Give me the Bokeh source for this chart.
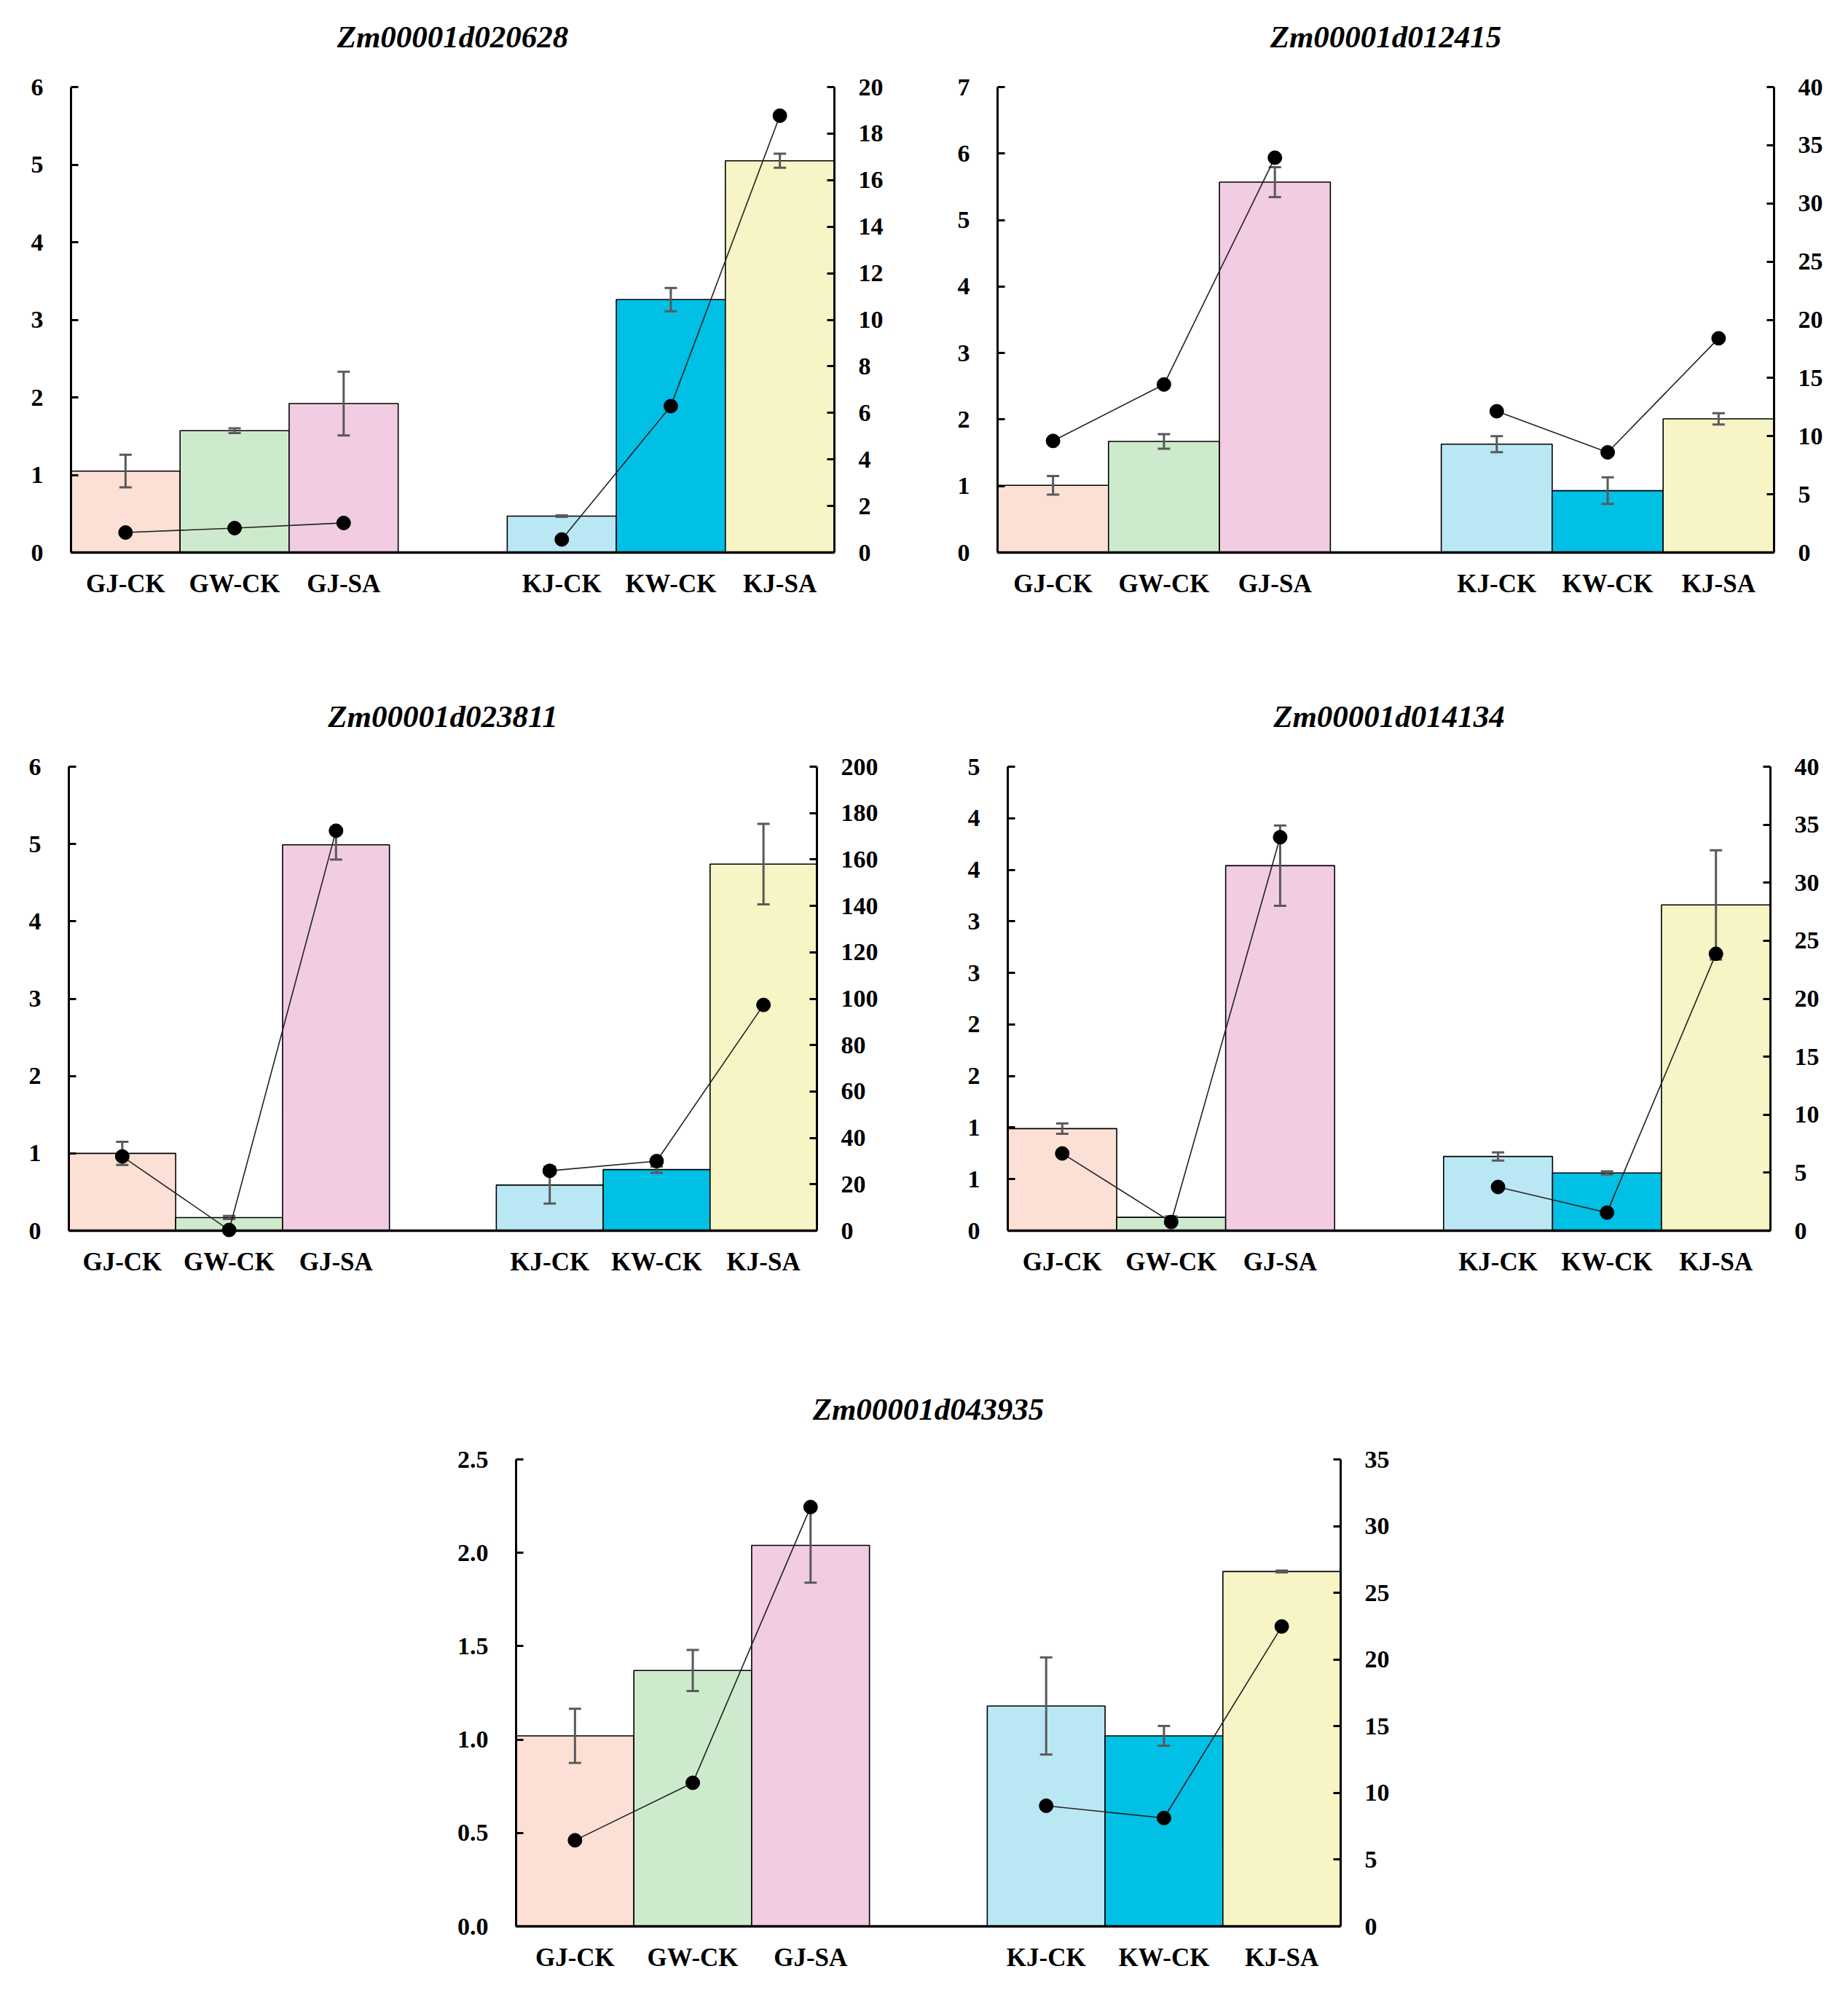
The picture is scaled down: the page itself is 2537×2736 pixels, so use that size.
from bokeh.plotting import figure
from bokeh.models import (Range1d, LinearAxis, FixedTicker, Whisker, ColumnDataSource,
                          TeeHead, FactorRange, Spacer, Title)
from bokeh.layouts import column, row
from bokeh.embed import file_html
from bokeh.resources import INLINE

# ---------------- data ----------------
categories = ["GJ-CK", "GW-CK", "GJ-SA", "KJ-CK", "KW-CK", "KJ-SA"]
bar_colors = ["#FCE0D5", "#CEEACD", "#F2CCE2", "#BAE7F4", "#00C0E6", "#F7F4C5"]

genes = ["Zm00001d020628", "Zm00001d012415", "Zm00001d023811",
         "Zm00001d014134", "Zm00001d043935"]

# relative expression (bars, left axis) with error, and line values (right axis)
bars_020628 = [1.05, 1.57, 1.92, 0.47, 3.26, 5.05]
err_020628 = [0.21, 0.03, 0.41, 0.01, 0.15, 0.09]
line_020628 = [0.86, 1.05, 1.27, 0.56, 6.29, 18.77]

bars_012415 = [1.01, 1.67, 5.57, 1.63, 0.93, 2.01]
err_012415 = [0.14, 0.11, 0.225, 0.12, 0.20, 0.085]
line_012415 = [9.59, 14.44, 33.93, 12.14, 8.61, 18.41]

bars_023811 = [1.00, 0.17, 4.99, 0.59, 0.79, 4.74]
err_023811 = [0.15, 0.02, 0.19, 0.24, 0.04, 0.52]
line_023811 = [32.0, 0.3, 172.4, 25.8, 30.0, 97.3]

bars_014134 = [0.99, 0.13, 3.54, 0.72, 0.56, 3.16]
err_014134 = [0.05, 0.01, 0.39, 0.04, 0.015, 0.53]
line_014134 = [6.66, 0.75, 33.92, 3.77, 1.56, 23.87]

bars_043935 = [1.02, 1.37, 2.04, 1.18, 1.02, 1.90]
err_043935 = [0.145, 0.11, 0.20, 0.26, 0.053, 0.005]
line_043935 = [6.45, 10.76, 31.43, 9.04, 8.12, 22.48]

# axis ticks / labels
left_ticks_020628 = [0, 1, 2, 3, 4, 5, 6]
left_labels_020628 = ["0", "1", "2", "3", "4", "5", "6"]
right_ticks_020628 = [0, 2, 4, 6, 8, 10, 12, 14, 16, 18, 20]

left_ticks_012415 = [0, 1, 2, 3, 4, 5, 6, 7]
left_labels_012415 = ["0", "1", "2", "3", "4", "5", "6", "7"]
right_ticks_012415 = [0, 5, 10, 15, 20, 25, 30, 35, 40]

left_ticks_023811 = [0, 1, 2, 3, 4, 5, 6]
left_labels_023811 = ["0", "1", "2", "3", "4", "5", "6"]
right_ticks_023811 = [0, 20, 40, 60, 80, 100, 120, 140, 160, 180, 200]

left_ticks_014134 = [0, 0.5, 1, 1.5, 2, 2.5, 3, 3.5, 4, 4.5]
left_labels_014134 = ["0", "1", "1", "2", "2", "3", "3", "4", "4", "5"]
right_ticks_014134 = [0, 5, 10, 15, 20, 25, 30, 35, 40]

left_ticks_043935 = [0, 0.5, 1, 1.5, 2, 2.5]
left_labels_043935 = ["0.0", "0.5", "1.0", "1.5", "2.0", "2.5"]
right_ticks_043935 = [0, 5, 10, 15, 20, 25, 30, 35]

FONT = "Liberation Serif"
GAP = " "
x_factors = categories[:3] + [GAP] + categories[3:]


def make_panel(title, bars, errs, line, lticks, llabels, rticks,
               fw, fh, lb, rb, tb, bb, gap):
    p = figure(x_range=FactorRange(*x_factors, range_padding=0),
               y_range=Range1d(lticks[0], lticks[-1]),
               frame_width=fw, frame_height=fh,
               min_border_left=lb, min_border_right=rb,
               min_border_top=tb, min_border_bottom=bb,
               output_backend="svg", toolbar_location=None, tools="")
    p.extra_y_ranges = {"r": Range1d(rticks[0], rticks[-1])}

    # small empty spacer between frame and the gene title
    p.add_layout(Title(text=" ", text_font_size="1px", standoff=gap), "above")
    p.add_layout(Title(text=title, align="center", vertical_align="top",
                       text_font=FONT, text_font_size="43px",
                       text_font_style="bold italic", text_color="black",
                       standoff=53), "above")

    p.outline_line_color = None
    p.xgrid.grid_line_color = None
    p.ygrid.grid_line_color = None
    p.background_fill_color = "white"
    p.border_fill_color = "white"

    src = ColumnDataSource(dict(
        x=categories, top=bars, color=bar_colors,
        upper=[b + e for b, e in zip(bars, errs)],
        lower=[b - e for b, e in zip(bars, errs)],
    ))
    p.vbar(x="x", top="top", bottom=0, width=1.0, source=src,
           fill_color="color", line_color="black", line_width=1.6)

    wk = Whisker(base="x", upper="upper", lower="lower", source=src,
                 line_color="#595959", line_width=3, level="annotation",
                 upper_head=TeeHead(size=17, line_color="#595959", line_width=3),
                 lower_head=TeeHead(size=17, line_color="#595959", line_width=3))
    p.add_layout(wk)

    for grp in (slice(0, 3), slice(3, 6)):
        lr = p.line(categories[grp], line[grp], y_range_name="r",
                    line_color="#222222", line_width=1.6)
        lr.level = "overlay"
        sr = p.scatter(categories[grp], line[grp], y_range_name="r", size=19,
                       fill_color="black", line_color="black")
        sr.level = "overlay"

    # x axis
    xa = p.xaxis[0]
    xa.axis_line_width = 3.5
    xa.axis_line_color = "black"
    xa.major_tick_line_color = None
    xa.minor_tick_line_color = None
    xa.major_label_text_font = FONT
    xa.major_label_text_font_size = "35px"
    xa.major_label_text_font_style = "bold"
    xa.major_label_text_color = "black"
    xa.major_label_standoff = 17

    # left axis
    ya = p.yaxis[0]
    ya.ticker = FixedTicker(ticks=lticks)
    ya.major_label_overrides = {t: s for t, s in zip(lticks, llabels)}

    # right axis
    ra = LinearAxis(y_range_name="r", ticker=FixedTicker(ticks=rticks))
    p.add_layout(ra, "right")

    for ax, so in ((ya, 38), (ra, 33)):
        ax.axis_line_width = 3
        ax.axis_line_color = "black"
        ax.major_tick_in = 10
        ax.major_tick_out = 0
        ax.major_tick_line_width = 3
        ax.major_tick_line_color = "black"
        ax.minor_tick_line_color = None
        ax.major_label_text_font = FONT
        ax.major_label_text_font_size = "34px"
        ax.major_label_text_font_style = "bold"
        ax.major_label_text_color = "black"
        ax.major_label_standoff = so
    return p


p1 = make_panel(genes[0], bars_020628, err_020628, line_020628,
                left_ticks_020628, left_labels_020628, right_ticks_020628,
                1048, 639, 97, 112, 119, 100, 14)
p2 = make_panel(genes[1], bars_012415, err_012415, line_012415,
                left_ticks_012415, left_labels_012415, right_ticks_012415,
                1066, 639, 112, 80, 119, 100, 14)
p3 = make_panel(genes[2], bars_023811, err_023811, line_023811,
                left_ticks_023811, left_labels_023811, right_ticks_023811,
                1027, 637, 94, 130, 194, 100, 14)
p4 = make_panel(genes[3], bars_014134, err_014134, line_014134,
                left_ticks_014134, left_labels_014134, right_ticks_014134,
                1047, 637, 132, 80, 194, 100, 14)
p5 = make_panel(genes[4], bars_043935, err_043935, line_043935,
                left_ticks_043935, left_labels_043935, right_ticks_043935,
                1132, 641, 100, 100, 214, 80, 14)

layout = column(row(p1, p2), row(p3, p4), row(Spacer(width=608, height=10), p5))

open("out.html", "w").write(file_html(layout, INLINE))
